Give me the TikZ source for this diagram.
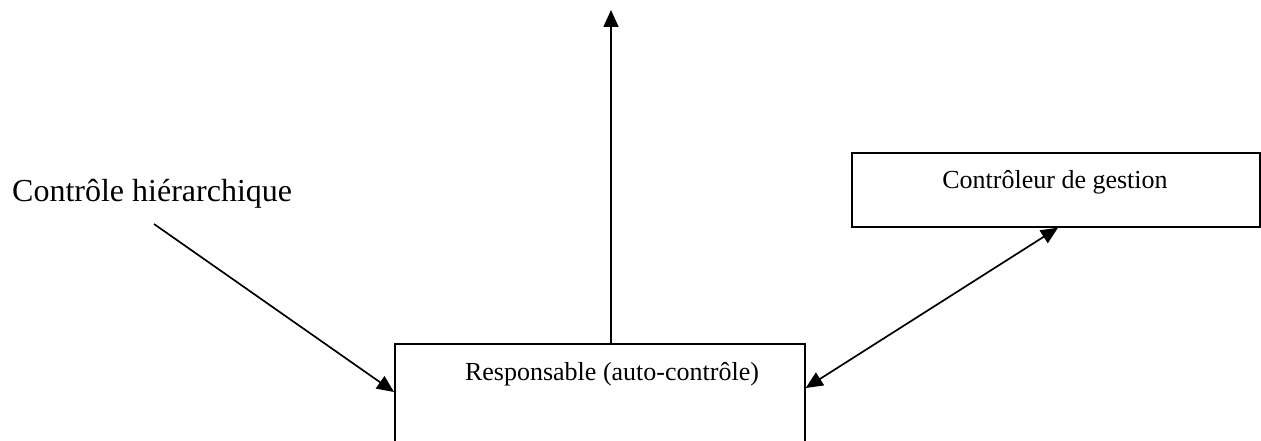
\documentclass[tikz,border=0pt]{standalone}
\usepackage{fontspec}
\setmainfont{Liberation Serif}
\usetikzlibrary{arrows.meta}
\begin{document}
\begin{tikzpicture}[x=1pt,y=1pt,
  conn/.style={line width=1.7pt,-{Triangle[length=17pt,width=15pt]}},
  dconn/.style={line width=1.7pt,{Triangle[length=17pt,width=15pt]}-{Triangle[length=17pt,width=15pt]}},
  box/.style={draw,line width=1.7pt,rectangle,inner sep=0pt},
  lbl/.style={inner sep=0pt,font=\fontsize{26}{30}\selectfont}]
\useasboundingbox (0,0) rectangle (1261,-441);
\clip (0,0) rectangle (1261,-441);
\node[box,minimum width=410pt,minimum height=140pt,anchor=north west] (resp) at (394,-343) {};
\node[lbl,anchor=base] (resptxt) at (612,-380) {Responsable (auto-contrôle)};
\node[box,minimum width=408pt,minimum height=74pt,anchor=north west] (gest) at (851,-152) {};
\node[lbl,anchor=base] (gesttxt) at (1055,-188) {Contrôleur de gestion};
\node[inner sep=0pt,anchor=base west,font=\fontsize{32}{38}\selectfont] (hier) at (12,-201) {Contrôle hiérarchique};
\coordinate (top) at (611,-10);
\coordinate (hstart) at (154,-224);
\draw[conn] (resp.north -| top) -- (top);
\draw[conn] (hstart) -- ([yshift=-49pt]resp.north west);
\draw[dconn] ([yshift=-45pt]resp.north east) -- ([xshift=207pt]gest.south west);
\end{tikzpicture}
\end{document}
